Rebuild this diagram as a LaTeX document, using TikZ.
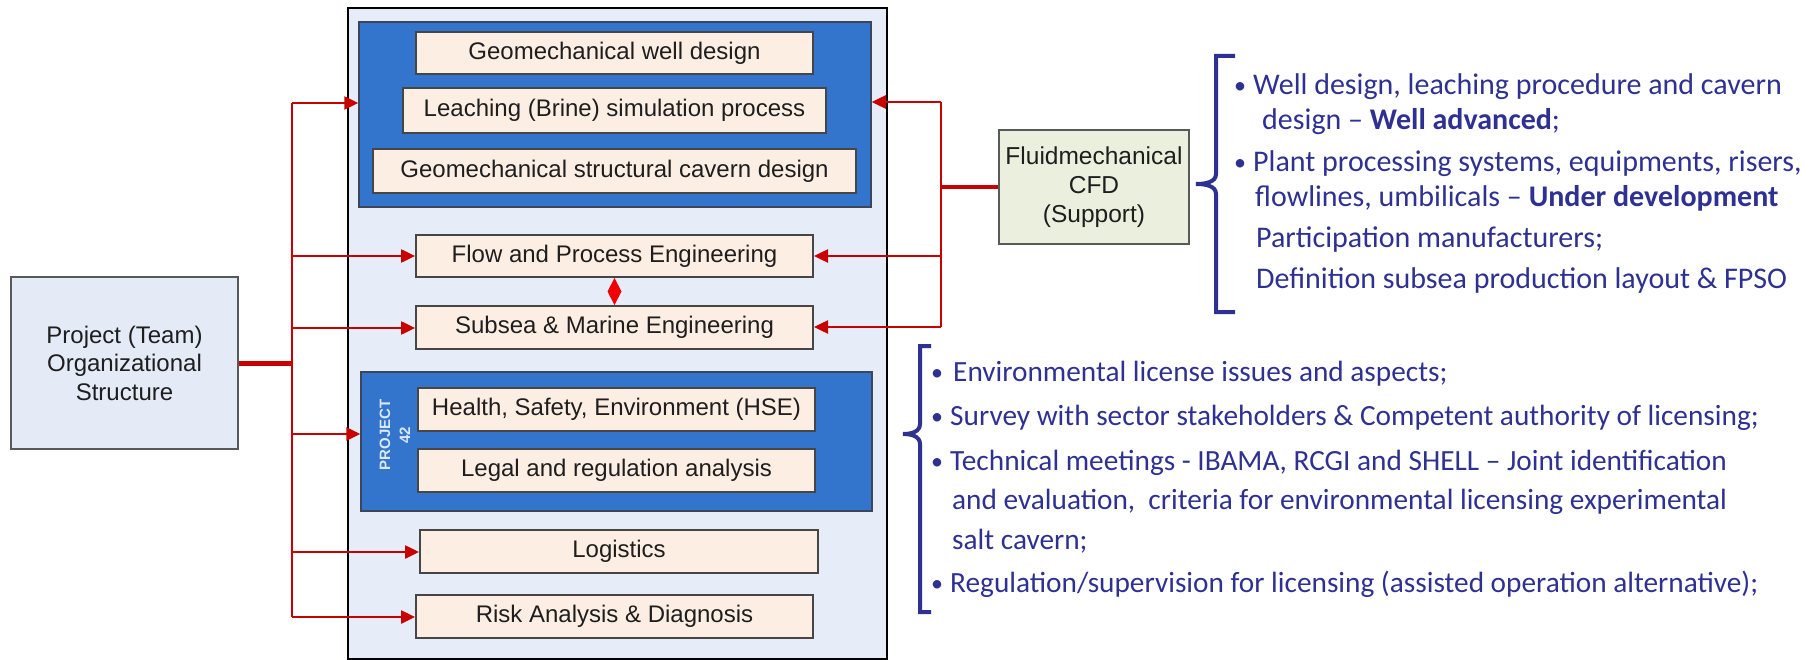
\documentclass[tikz,border=0pt]{standalone}
\usepackage{fontspec}
\setmainfont{Liberation Sans}
\newfontfamily\listfont{Carlito}
\usetikzlibrary{arrows.meta,calc}

\definecolor{panelbg}{RGB}{230,237,248}
\definecolor{groupblue}{RGB}{51,117,204}
\definecolor{groupline}{RGB}{60,70,90}
\definecolor{taskfill}{RGB}{253,238,228}
\definecolor{taskline}{RGB}{70,70,70}
\definecolor{projfill}{RGB}{228,235,247}
\definecolor{cfdfill}{RGB}{235,240,222}
\definecolor{linkred}{RGB}{200,0,0}
\definecolor{diamondred}{RGB}{240,0,0}
\definecolor{listblue}{RGB}{46,49,146}
\definecolor{textgray}{RGB}{30,30,30}
\definecolor{labelwhite}{RGB}{220,232,248}

\begin{document}
\begin{tikzpicture}[x=1pt,y=-1pt,
  boxfont/.style={font=\fontsize{24}{28.5}\selectfont},
  task/.style={draw=taskline, line width=2pt, fill=taskfill, inner sep=0pt,
    text=textgray, boxfont},
  group/.style={draw=groupline, line width=1.5pt, fill=groupblue, inner sep=0pt},
  side/.style={draw=taskline!90, line width=2pt, inner sep=0pt, text=textgray,
    boxfont, align=center},
  link/.style={draw=linkred, line width=2.5pt},
  arr/.style={link, -{Triangle[length=14pt,width=13pt]}},
  brace/.style={draw=listblue, line width=4pt},
  lst/.style={anchor=base west, inner sep=0pt, text=listblue,
    font=\listfont\fontsize{30}{36}\selectfont},
  lstb/.style={lst, font=\listfont\fontsize{29.3}{35}\selectfont},
  bul/.style={anchor=base, inner sep=0pt, text=listblue,
    font=\listfont\fontsize{24}{30}\selectfont},
]
\useasboundingbox (0,0) rectangle (1820,660);

% outer panel holding all work packages
\draw[fill=panelbg, draw=black, line width=2.5pt] (348,8) rectangle (887,659);

% geomechanics group
\node[group, minimum width=512pt, minimum height=185pt] (topgroup) at (615,114.5) {};
\node[task, minimum width=397pt, minimum height=42pt] (geowell) at (614.5,53) {Geomechanical well design};
\node[task, minimum width=423pt, minimum height=45pt] (leach) at (614.5,110.5) {Leaching (Brine) simulation process};
\node[task, minimum width=483pt, minimum height=44pt] (geostruct) at (614.5,171) {Geomechanical structural cavern design};

% engineering packages
\node[task, minimum width=397pt, minimum height=42pt] (flow) at (614.5,256) {Flow and Process Engineering};
\node[task, minimum width=397pt, minimum height=43pt] (subsea) at (614.5,327.5) {Subsea \& Marine Engineering};

% Project 42 group
\node[group, minimum width=511pt, minimum height=139pt] (p42) at (616.5,441.5) {};
\node[rotate=90, align=center, inner sep=0pt, text=labelwhite,
  font=\bfseries\fontsize{15}{20}\selectfont] (p42label) at (395,435) {PROJECT\\42};
\node[task, minimum width=397pt, minimum height=43pt] (hse) at (616.5,409.5) {Health, Safety, Environment (HSE)};
\node[task, minimum width=397pt, minimum height=43pt] (legal) at (616.5,470.5) {Legal and regulation analysis};

\node[task, minimum width=398pt, minimum height=43pt] (logistics) at (619,551.5) {Logistics};
\node[task, minimum width=397pt, minimum height=43pt] (risk) at (614.5,616.5) {Risk Analysis \& Diagnosis};

% side boxes
\node[side, fill=projfill, minimum width=227pt, minimum height=172pt] (proj) at (124.5,363)
  {Project (Team)\\Organizational\\Structure};
\node[side, fill=cfdfill, minimum width=190pt, minimum height=114pt,
  font=\fontsize{24.5}{29}\selectfont] (fluid) at (1094,187)
  {Fluidmechanical\\CFD\\(Support)};

% left distribution bus
\coordinate (L1) at (292,103);
\coordinate (L2) at (292,256);
\coordinate (L3) at (292,328);
\coordinate (L4) at (292,434);
\coordinate (L5) at (292,552);
\coordinate (L6) at (292,617);
\draw[link] (L1) -- (L6);
\draw[link, line width=5pt] (proj.east) -- (proj.east -| L1);
\draw[arr] (L1) -- (L1 -| topgroup.west);
\draw[arr] (L2) -- (L2 -| flow.west);
\draw[arr] (L3) -- (L3 -| subsea.west);
\draw[arr] (L4) -- (L4 -| p42.west);
\draw[arr] (L5) -- (L5 -| logistics.west);
\draw[arr] (L6) -- (L6 -| risk.west);

% right support bus
\coordinate (R1) at (941,102);
\coordinate (R2) at (941,256);
\coordinate (R3) at (941,327);
\draw[link] (R1) -- (R3);
\draw[link, line width=4pt] (fluid.west) -- (fluid.west -| R1);
\draw[arr] (R1) -- (R1 -| topgroup.east);
\draw[arr] (R2) -- (R2 -| flow.east);
\draw[arr] (R3) -- (R3 -| subsea.east);

% two-way link between flow and subsea engineering
\coordinate (fm) at ($(flow.south)!0.5!(subsea.north)$);
\fill[diamondred] (flow.south) -- ($(fm)+(7,0)$) -- (subsea.north) -- ($(fm)+(-7,0)$) -- cycle;

% upper bracket and notes
\draw[brace] (1235,56) -- (1216,56) -- (1216,174)
  .. controls (1216,182) and (1206,184) .. (1196,184)
  .. controls (1206,184) and (1216,186) .. (1216,194) -- (1216,312) -- (1235,312);
\node[bul] (ba) at (1240,94) {•};
\node[lst] (ta) at (1253,95) {Well design, leaching procedure and cavern};
\node[lst] (tb) at (1262,130) {design – \textbf{Well advanced};};
\node[bul] (bc) at (1240,171) {•};
\node[lst] (tc) at (1253,172) {Plant processing systems, equipments, risers,};
\node[lst] (td) at (1255,207) {flowlines, umbilicals – \textbf{Under development}};
\node[lst] (te) at (1256,248) {Participation manufacturers;};
\node[lst] (tf) at (1256,289) {Definition subsea production layout \& FPSO};

% lower bracket and notes
\draw[brace] (931,346) -- (920,346) -- (920,424)
  .. controls (920,432) and (911,434) .. (903,434)
  .. controls (911,434) and (920,436) .. (920,444) -- (920,612) -- (931,612);
\node[bul] (bg) at (937,380) {•};
\node[lstb] (tg) at (953,381) {Environmental license issues and aspects;};
\node[bul] (bh) at (937,424) {•};
\node[lstb] (th) at (950,425) {Survey with sector stakeholders \& Competent authority of licensing;};
\node[bul] (bi) at (937,469) {•};
\node[lstb] (ti) at (950,470) {Technical meetings - IBAMA, RCGI and SHELL – Joint identification};
\node[lstb] (tj) at (952,509) {and evaluation,\ \ criteria for environmental licensing experimental};
\node[lstb] (tk) at (952,549) {salt cavern;};
\node[bul] (bl) at (937,591) {•};
\node[lstb] (tl) at (950,592) {Regulation/supervision for licensing (assisted operation alternative);};
\end{tikzpicture}
\end{document}
